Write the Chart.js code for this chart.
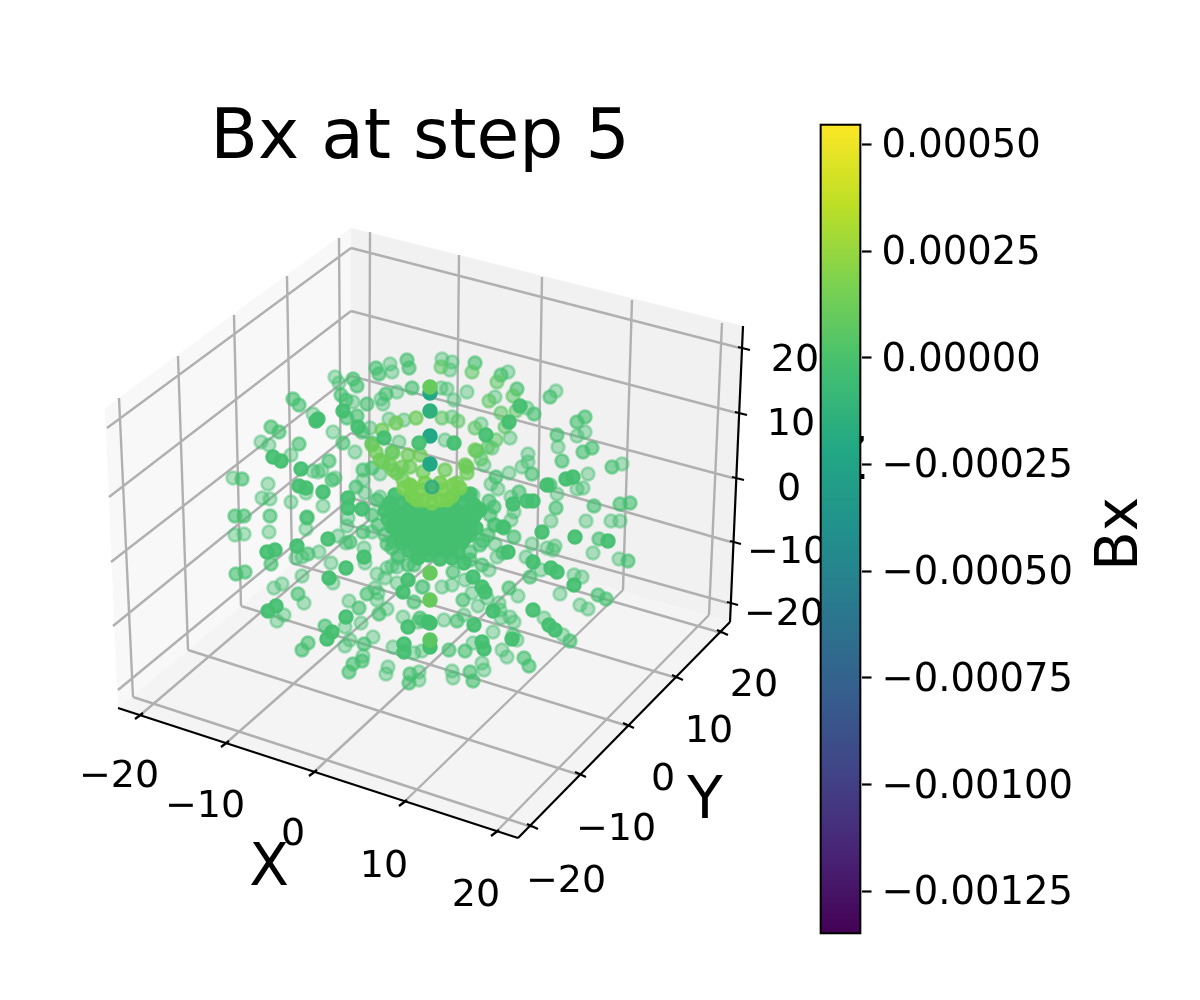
<!DOCTYPE html>
<html>
<head>
<meta charset="utf-8">
<title>Bx at step 5</title>
<script src="https://cdn.jsdelivr.net/npm/chart.js@4"></script>
<style>
  body { margin: 0; background: #fff; }
  #wrap { position: relative; width: 1200px; height: 1000px; }
  canvas { position: absolute; top: 0; }
  #scatter3d { left: 0; }
  #colorbar { left: 800px; }
</style>
</head>
<body>
<div id="wrap">
  <canvas id="scatter3d" width="1200" height="1000"></canvas>
  <canvas id="colorbar" width="400" height="1000"></canvas>
</div>
<script>
const shellFaint = [[335,377],[339,383],[353,402],[313,414],[370,428],[333,432],[355,452],[261,442],[269,445],[291,455],
  [313,471],[318,472],[322,470],[335,478],[233,478],[268,484],[262,498],[270,499],[306,493],[291,502],[323,506],[348,518],
  [363,480],[365,493],[380,474],[380,497],[390,364],[392,372],[397,392],[381,399],[383,404],[389,419],[404,420],[399,442],
  [442,359],[452,362],[450,370],[508,372],[441,388],[447,389],[467,392],[454,400],[495,397],[527,408],[556,391],[585,432],
  [577,436],[558,447],[622,464],[588,474],[557,494],[577,489],[583,488],[551,521],[586,521],[611,521],[620,521],[452,417],
  [481,424],[510,438],[445,440],[492,448],[528,454],[528,462],[522,467],[509,473],[491,484],[498,489],[484,465],[511,497],
  [514,512],[511,520],[494,525],[473,495],[235,535],[244,534],[269,532],[306,529],[338,536],[346,543],[347,526],[372,532],
  [296,558],[302,557],[319,552],[331,563],[333,583],[302,576],[282,584],[274,588],[304,603],[284,615],[277,621],[349,601],
  [361,623],[345,627],[350,640],[345,646],[373,637],[363,656],[388,667],[386,674],[419,672],[419,680],[393,647],[414,653],
  [422,651],[403,617],[418,622],[423,621],[387,609],[377,600],[378,593],[375,588],[377,574],[387,568],[392,566],[397,567],
  [385,578],[397,583],[422,587],[364,548],[365,563],[398,558],[593,553],[619,559],[547,548],[555,546],[553,550],[532,544],
  [526,557],[541,570],[574,575],[582,577],[560,594],[580,605],[588,609],[518,596],[544,618],[563,635],[495,544],[497,557],
  [489,570],[465,580],[452,585],[442,587],[472,593],[487,598],[478,606],[499,603],[500,610],[501,618],[510,617],[514,622],
  [464,615],[444,620],[493,632],[513,635],[517,640],[473,643],[502,650],[507,657],[482,663],[484,670],[452,671],[453,678],
  [423,587]];
const shellMid = [[353,379],[357,386],[341,395],[346,400],[367,404],[293,399],[299,405],[347,418],[357,416],[362,432],
  [343,443],[271,427],[279,432],[299,444],[329,461],[332,480],[242,479],[235,516],[244,516],[270,516],[307,517],[356,487],
  [372,468],[377,500],[376,368],[379,374],[407,360],[409,368],[412,388],[386,394],[392,452],[475,363],[501,375],[517,389],
  [534,414],[585,417],[577,422],[557,435],[592,448],[583,452],[562,461],[612,467],[550,485],[594,506],[620,504],[630,503],
  [556,508],[477,451],[532,474],[496,477],[519,492],[489,501],[494,507],[477,508],[467,495],[307,518],[236,574],[245,572],
  [271,564],[308,554],[350,542],[363,532],[298,594],[359,608],[325,626],[308,643],[302,650],[364,644],[362,661],[353,664],
  [349,672],[410,674],[409,683],[379,614],[367,594],[414,602],[414,565],[387,544],[393,542],[599,539],[628,561],[530,577],
  [598,595],[606,599],[509,588],[570,641],[504,528],[514,537],[483,541],[503,553],[482,565],[453,572],[463,600],[457,621],
  [465,651],[449,650],[524,658],[529,666],[470,672],[473,681],[420,618],[372,515],[378,525],[385,535],[490,515],[495,525],
  [488,535],[480,545],[470,552],[392,548],[398,556],[470,560],[408,565],[550,397],[372,443],[363,470]];
const shellNear = [[318,419],[316,421],[343,411],[358,427],[273,457],[281,461],[301,469],[299,486],[306,488],[323,492],
  [348,498],[348,508],[362,509],[384,438],[419,443],[520,406],[509,422],[486,435],[454,443],[573,477],[566,479],[547,485],
  [513,504],[527,501],[533,501],[503,527],[267,552],[275,550],[297,546],[328,539],[346,568],[329,578],[276,606],[268,611],
  [346,617],[332,632],[327,639],[404,644],[404,652],[408,627],[428,622],[403,592],[408,580],[364,557],[542,532],[575,537],
  [608,541],[533,562],[551,568],[557,572],[574,585],[533,610],[549,625],[555,630],[508,552],[464,563],[473,577],[482,587],
  [485,592],[493,611],[474,625],[512,639],[482,642],[484,649]];
const coreCluster = [[395,495],[410,497],[455,496],[470,494],[390,503],[402,504],[414,502],[450,504],[462,503],[474,505],
  [385,511],[396,512],[408,510],[420,511],[432,512],[444,510],[456,511],[468,512],[480,510],[388,519],[400,520],[412,518],
  [424,520],[436,519],[448,520],[460,518],[472,519],[392,527],[404,528],[416,526],[428,527],[440,528],[452,526],[464,527],
  [476,528],[398,535],[410,536],[422,534],[434,535],[446,536],[458,534],[470,535],[402,543],[414,544],[426,542],[438,543],
  [450,544],[462,542],[410,551],[422,552],[434,550],[446,551],[458,552],[418,558],[440,559],[452,558],[391,507],[403,515],
  [415,515],[427,515],[439,515],[451,515],[463,515],[475,515],[394,523],[406,523],[418,523],[430,523],[442,523],[454,523],
  [466,523],[398,531],[410,531],[422,530],[434,531],[446,530],[458,531],[470,530],[404,539],[416,539],[428,539],[440,539],
  [452,539],[464,539],[416,547],[428,547],[440,547],[452,547],[428,555]];
const shellWarm = [[441,367],[472,372],[497,382],[513,396],[489,401],[501,413],[516,411],[458,421],[442,418],[475,428],
  [505,427],[496,440],[488,447],[481,459]];
const domeOuter = [[382,430],[376,452],[383,462],[390,465],[397,473],[408,455],[420,455],[423,472],[410,467],
  [467,467],[445,470],[465,465],[475,450],[402,467],[393,453],[380,460],[372,445],[396,423],[416,418],
  [393,470],[403,480],[467,473],[457,483]];
const domeInner = [[412,487],[432,493],[410,485],[453,485],[417,500],[447,500],[432,503],[422,490],[442,490],[425,483],[440,483],
  [404,488],[460,488],[412,496],[452,496],[424,500],[440,500]];
const coreTeal = [[432,487]];
const tealPoints = [[430,393],[430,411],[430,436],[430,464]];
const tealBx = [-0.00021, -0.00014, -0.00021, -0.00021];
const columnPoints = [[430,387],[430,573],[430,600],[430,623],[430,647],[430,640]];
const columnBx = [0.00010, 0.00010, 0.00010, -0.00002, -0.00002, 0.00006];
const bxShell = -0.00002;
const bxWarm = 0.00006;
const bxDomeOuter = 0.00012;
const bxDomeInner = 0.00016;
const bxCoreTeal = -0.00025;

// frame of the 3d box
const leftWall = [[105,408],[351,228],[351,515],[118,708]];
const backWall = [[351,228],[743,326],[730,622],[351,515]];
const floorPane = [[118,708],[351,515],[730,622],[518,838]];
const gridLines = [
  [119,398,133,697],[178,356,188,650],[234,315,241,606],[287,276,292,563],[339,238,341,523],
  [370,232,369,520],[459,255,456,541],[542,277,537,565],[632,300,623,590],[722,323,709,615],
  [351,248,107,428],[351,311,109,497],[351,376,111,562],[351,433,113,626],[351,498,118,690],
  [351,248,740,348],[351,311,737,413],[351,376,733,478],[351,433,731,542],[351,498,728,603],
  [138,717,369,520],[225,744,456,541],[313,773,537,565],[403,803,623,590],[495,833,709,615],
  [133,697,532,827],[188,650,580,775],[241,606,628,726],[292,563,677,678],[341,523,722,633]
];
const axisLines = [[118,708,518,838],[518,838,730,622],[730,622,743,326]];
const tickMarks = [
  [135,719,143,713],[221,747,229,741],[309,776,317,770],[399,806,407,800],[491,836,499,830],
  [527,824,538,829],[575,772,586,777],[623,723,634,728],[672,675,683,680],[717,630,728,635],
  [738,347,750,350],[735,412,747,415],[732,477,744,480],[730,541,741,544],[727,602,738,605]
];
const xTickLabels = ['\u221220','\u221210','0','10','20'];
const xTickSpots = [[119,773],[205,803],[293,831],[384,863],[476,892]];
const yTickLabels = ['\u221220','\u221210','0','10','20'];
const yTickSpots = [[566,878],[616,826],[663,776],[709,728],[754,682]];
const zTickLabels = ['\u221220','\u221210','0','10','20'];
const zTickSpots = [[784,611],[787,549],[789,486],[791,421],[795,357]];

// colorbar
const bxMin = -0.0013515;
const bxMax = 0.000549;
const colorbarTicks = [-0.00125,-0.001,-0.00075,-0.0005,-0.00025,0,0.00025,0.0005];
const viridis = ['#440154','#482475','#414487','#355f8d','#2a788e','#21918c','#22a884','#44bf70','#7ad151','#bddf26','#fde725'];

const fontName = '"DejaVu Sans"';
const dotRadius = 6.4;
const dotEdge = 2.7;

function viridisRgb(bx) {
  const t = Math.min(1, Math.max(0, (bx - bxMin) / (bxMax - bxMin))) * (viridis.length - 1);
  const i = Math.min(viridis.length - 2, Math.floor(t));
  const hex = s => [1, 3, 5].map(k => parseInt(s.substr(k, 2), 16));
  const a = hex(viridis[i]), b = hex(viridis[i + 1]);
  return a.map((v, k) => Math.round(v + (b[k] - v) * (t - i)));
}
function rgba(bx, alpha) {
  return 'rgba(' + viridisRgb(bx).join(',') + ',' + alpha + ')';
}
function toXY(list) {
  return list.map(p => ({ x: p[0], y: p[1] }));
}
function segments(list) {
  const out = [];
  list.forEach(s => {
    out.push({ x: s[0], y: s[1] }, { x: s[2], y: s[3] }, { x: NaN, y: NaN });
  });
  return out;
}
function pane(list, color, order) {
  return { type: 'line', data: toXY(list), showLine: true, fill: 'shape', backgroundColor: color,
    borderWidth: 0, pointRadius: 0, order: order };
}
function lines(list, color, width, order) {
  return { type: 'line', data: segments(list), showLine: true, spanGaps: false, fill: false, borderColor: color,
    borderWidth: width, pointRadius: 0, order: order };
}
function dots(list, fill, edge, order) {
  return { type: 'scatter', data: toXY(list), backgroundColor: fill, borderColor: edge,
    pointRadius: dotRadius, pointBorderWidth: dotEdge, order: order };
}

function putText(ctx, str, x, y, size, rot) {
  ctx.save();
  ctx.translate(x, y);
  if (rot) ctx.rotate(rot);
  ctx.font = size + 'px ' + fontName;
  ctx.fillStyle = '#000';
  ctx.textAlign = 'center';
  ctx.textBaseline = 'alphabetic';
  ctx.fillText(str, 0, size * 0.729 / 2);
  ctx.restore();
}

const labelsPlugin = {
  id: 'labels3d',
  afterDatasetsDraw(chart) {
    const ctx = chart.ctx;
    xTickLabels.forEach((t, i) => putText(ctx, t, xTickSpots[i][0], xTickSpots[i][1], 38));
    yTickLabels.forEach((t, i) => putText(ctx, t, yTickSpots[i][0], yTickSpots[i][1], 38));
    zTickLabels.forEach((t, i) => putText(ctx, t, zTickSpots[i][0], zTickSpots[i][1], 38));
    putText(ctx, 'X', 269, 864, 58);
    putText(ctx, 'Y', 705, 797, 58);
    putText(ctx, 'Z', 847, 458, 58);
    putText(ctx, 'Bx', 1116, 534, 58, -Math.PI / 2);
    putText(ctx, 'Bx at step 5', 420, 133, 69.5);
  }
};

new Chart(document.getElementById('scatter3d'), {
  type: 'scatter',
  data: {
    datasets: [
      pane(leftWall, '#f8f8f8', 100),
      pane(backWall, '#f1f1f1', 99),
      pane(floorPane, '#f4f4f4', 98),
      lines(gridLines, '#b0b0b0', 2.4, 97),
      dots(shellFaint, rgba(bxShell, 0.42), rgba(bxShell, 0.45), 60),
      dots(shellMid, rgba(bxShell, 0.62), rgba(bxShell, 0.6), 50),
      dots(shellWarm, rgba(bxWarm, 0.55), rgba(bxWarm, 0.55), 45),
      dots(domeOuter, rgba(bxDomeOuter, 0.7), rgba(bxDomeOuter, 0.7), 40),
      { type: 'scatter', data: toXY(tealPoints), backgroundColor: tealBx.map(v => rgba(v, 1)),
        borderColor: tealBx.map(v => rgba(v, 1)), pointRadius: dotRadius, pointBorderWidth: dotEdge, order: 30 },
      dots(coreCluster, rgba(bxShell, 0.95), rgba(bxShell, 0.95), 20),
      dots(domeInner, rgba(bxDomeInner, 0.85), rgba(bxDomeInner, 0.85), 15),
      dots(coreTeal, rgba(bxCoreTeal, 0.6), rgba(bxCoreTeal, 0.6), 14),
      dots(shellNear, rgba(bxShell, 0.92), rgba(bxShell, 0.92), 10),
      { type: 'scatter', data: toXY(columnPoints), backgroundColor: columnBx.map(v => rgba(v, 1)),
        borderColor: columnBx.map(v => rgba(v, 1)), pointRadius: dotRadius, pointBorderWidth: dotEdge, order: 5 },
      lines(axisLines, '#000', 2.2, 3),
      lines(tickMarks, '#000', 2.2, 2)
    ]
  },
  options: {
    responsive: false,
    animation: false,
    layout: { autoPadding: false },
    plugins: { legend: { display: false }, tooltip: { enabled: false } },
    scales: {
      x: { type: 'linear', min: 0, max: 1200, display: false },
      y: { type: 'linear', min: 0, max: 1000, reverse: true, display: false }
    }
  },
  plugins: [labelsPlugin]
});

new Chart(document.getElementById('colorbar'), {
  type: 'bar',
  data: {
    labels: ['Bx'],
    datasets: [{
      data: [[bxMin, bxMax]],
      barPercentage: 1,
      categoryPercentage: 1,
      borderColor: '#000',
      borderWidth: 2.5,
      borderSkipped: false,
      backgroundColor(c) {
        const area = c.chart.chartArea;
        if (!area) return viridis[7];
        const g = c.chart.ctx.createLinearGradient(0, area.bottom, 0, area.top);
        viridis.forEach((col, i) => g.addColorStop(i / (viridis.length - 1), col));
        return g;
      }
    }]
  },
  options: {
    responsive: false,
    animation: false,
    layout: { autoPadding: false, padding: { left: 19.5, right: 0, top: 123.5, bottom: 65.5 } },
    plugins: { legend: { display: false }, tooltip: { enabled: false } },
    scales: {
      x: { display: false },
      y: {
        position: 'right',
        min: bxMin,
        max: bxMax,
        afterBuildTicks(scale) { scale.ticks = colorbarTicks.map(v => ({ value: v })); },
        afterFit(scale) { scale.width = 338.5; },
        border: { display: false },
        grid: { drawOnChartArea: false, tickLength: 10, tickColor: '#000', tickWidth: 2.2 },
        ticks: {
          autoSkip: false,
          color: '#000',
          padding: 10,
          labelOffset: 3,
          font: { family: 'DejaVu Sans', size: 38.5 },
          callback: v => (v < 0 ? '\u2212' : '') + Math.abs(v).toFixed(5)
        }
      }
    }
  }
});
</script>
</body>
</html>
